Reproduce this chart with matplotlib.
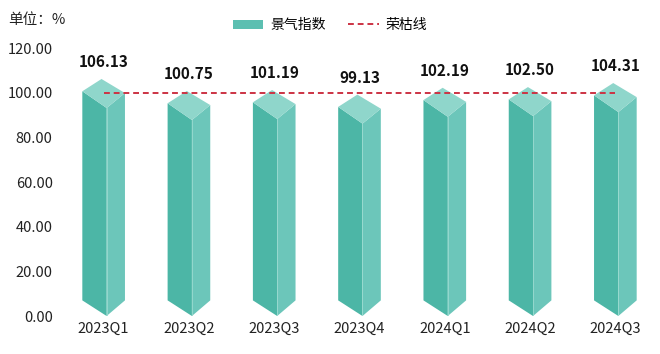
import matplotlib
matplotlib.use("Agg")
import matplotlib.pyplot as plt
from matplotlib.patches import Patch, Polygon
from matplotlib.lines import Line2D

plt.rcParams['font.family'] = ['Noto Sans CJK SC', 'DejaVu Sans']

quarters = ["2023Q1", "2023Q2", "2023Q3", "2023Q4", "2024Q1", "2024Q2", "2024Q3"]
index_vals = [106.13, 100.75, 101.19, 99.13, 102.19, 102.50, 104.31]
boom_line = 100
yticks = [0, 20, 40, 60, 80, 100, 120]

top_c = "#8fd6cb"
left_c = "#4cb6a6"
right_c = "#6cc6ba"
red = "#cc3344"

fig = plt.figure(figsize=(6.6, 3.54), dpi=100)
ax = fig.add_axes([61 / 660, 38 / 354, 597 / 660, 268 / 354])

# prism-like bars
hw, ax_off, fr_off = 0.25, -0.025, 0.035
for i, v in enumerate(quarters):
    val = index_vals[i]
    left = [(i - hw, val - 5.5), (i + fr_off, val - 13), (i + fr_off, 0), (i - hw, 7)]
    right = [(i + fr_off, val - 13), (i + hw, val - 6.3), (i + hw, 7), (i + fr_off, 0)]
    top = [(i + ax_off, val), (i + hw, val - 6.3), (i + fr_off, val - 13), (i - hw, val - 5.5)]
    ax.add_patch(Polygon(left, closed=True, fc=left_c, ec="none", zorder=2))
    ax.add_patch(Polygon(right, closed=True, fc=right_c, ec="none", zorder=2))
    ax.add_patch(Polygon(top, closed=True, fc=top_c, ec="none", zorder=2))
    ax.plot([i + fr_off, i + fr_off], [0, val - 13], color="#9adbd0", lw=0.6, zorder=3)
    ax.annotate(f"{val:.2f}", (i, val), xytext=(0, 12), textcoords="offset points",
                ha="center", va="center", fontsize=11, fontweight="bold", color="#111111")

ax.plot([0, len(quarters) - 1], [boom_line, boom_line], color=red, lw=1.4,
        dashes=(3, 2), zorder=4)

ax.set_xlim(-0.5, len(quarters) - 0.5)
ax.set_ylim(0, 120)
ax.set_xticks(range(len(quarters)))
ax.set_xticklabels(quarters, fontsize=10.5, color="#222222")
ax.set_yticks(yticks)
ax.set_yticklabels([f"{t:.2f}" for t in yticks], fontsize=10.5, color="#222222")
ax.tick_params(length=0, axis="y", pad=6)
ax.tick_params(length=0, axis="x", pad=4)
for s in ax.spines.values():
    s.set_visible(False)

fig.text(8 / 660, 1 - 20 / 354, "单位：%", fontsize=10.5, va="center", ha="left", color="#222222")

handles = [Patch(facecolor="#5cbfb1", edgecolor="none"),
           Line2D([0], [0], color=red, lw=1.4, dashes=(3, 2))]
fig.legend(handles, ["景气指数", "荣枯线"], loc="center", bbox_to_anchor=(0.5, 1 - 25 / 354),
           ncol=2, frameon=False, fontsize=10, handlelength=2.2, handleheight=0.6,
           columnspacing=1.6, handletextpad=0.5)

fig.savefig("out.png", dpi=100)
